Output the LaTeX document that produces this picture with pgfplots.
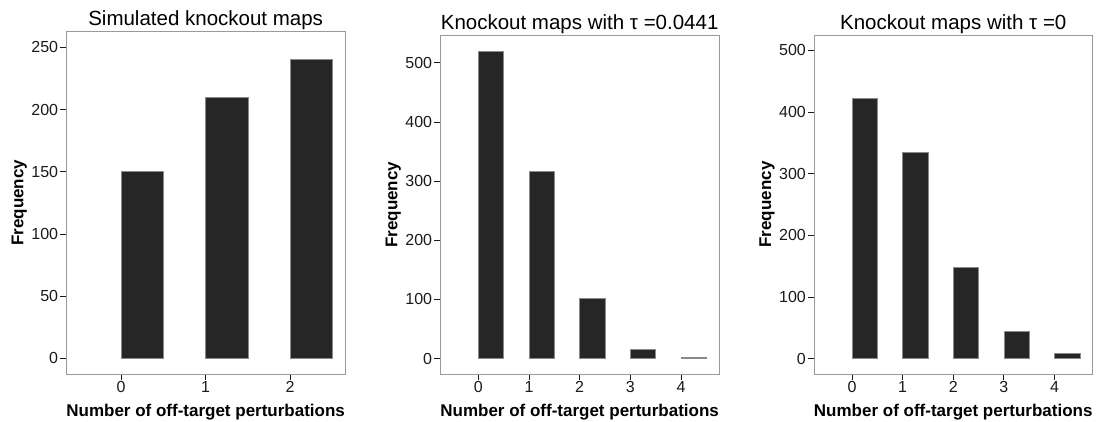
\documentclass[border=0pt]{standalone}
\usepackage{fontspec}
\setmainfont{Liberation Sans}
\usepackage{pgfplots}
\pgfplotsset{compat=1.18}
\definecolor{barfill}{HTML}{262626}
\definecolor{barline}{HTML}{8A8A8A}
\definecolor{boxline}{HTML}{9A9A9A}
\definecolor{ticktext}{HTML}{1A1A1A}
\pgfplotsset{
  panel/.style={
    scale only axis,
    anchor=south west,
    axis line style={boxline, line width=0.8pt},
    tick style={ticktext, line width=0.9pt},
    tick align=outside,
    major tick length=6pt,
    xtick pos=bottom, ytick pos=left,
    ticklabel style={font=\fontsize{16}{18}\selectfont, text=ticktext},
    xticklabel style={inner sep=1pt},
    yticklabel style={inner sep=2pt},
    /pgf/number format/assume math mode=true,
    xlabel={Number of off-target perturbations},
    ylabel={Frequency},
    label style={font=\fontsize{17}{19}\selectfont\bfseries},
    xlabel style={yshift=-7pt},
    ylabel style={yshift=-1pt},
    title style={font=\fontsize{20.5}{23}\selectfont, yshift=-8pt},
    scaled ticks=false,
  },
  hbar/.style={fill=barfill, draw=barline, line width=0.6pt},
}
\pgfplotstableread{
x y
0 150
1 210
2 240
}\dataA
\pgfplotstableread{
x y
0 520
1 317
2 102
3 16
4 2
}\dataB
\pgfplotstableread{
x y
0 423
1 334
2 148
3 44
4 8
}\dataC
\newcommand\drawbars[1]{%
  \pgfplotstableforeachcolumnelement{y}\of#1\as\val{%
    \edef\tmp{\noexpand\addplot[hbar] coordinates {(\pgfplotstablerow,0) (\pgfplotstablerow,\val) (\pgfplotstablerow+0.5,\val) (\pgfplotstablerow+0.5,0)} -- cycle;}\tmp}}
\begin{document}
\begin{tikzpicture}
\useasboundingbox (0pt,0pt) rectangle (1096pt,421pt);
\begin{axis}[panel, at={(66.3pt,47pt)}, width=278.7pt, height=342.3pt,
  xmin=-0.65, xmax=2.65, ymin=-12.5, ymax=262.5,
  xtick={0,1,2}, ytick={0,50,100,150,200,250},
  title={Simulated knockout maps}]
  \drawbars{\dataA}
\end{axis}
\begin{axis}[panel, at={(440.3pt,47pt)}, width=278.7pt, height=338.3pt,
  xmin=-0.75, xmax=4.75, ymin=-26, ymax=546,
  xtick={0,1,2,3,4}, ytick={0,100,200,300,400,500},
  title={Knockout maps with τ =0.0441}]
  \drawbars{\dataB}
\end{axis}
\begin{axis}[panel, at={(814pt,47pt)}, width=278.5pt, height=339pt,
  xmin=-0.75, xmax=4.75, ymin=-25, ymax=525,
  xtick={0,1,2,3,4}, ytick={0,100,200,300,400,500},
  title={Knockout maps with τ =0}]
  \drawbars{\dataC}
\end{axis}
\end{tikzpicture}
\end{document}
